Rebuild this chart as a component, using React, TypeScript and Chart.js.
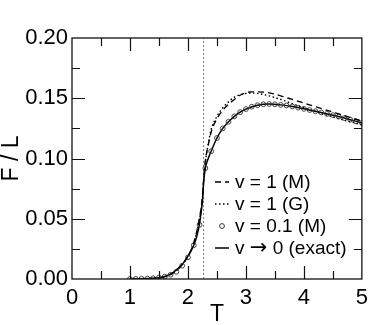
import React, { useEffect, useRef } from "react";
import { Chart, registerables } from "chart.js";

Chart.register(...registerables);

// ---- data ----
const T_C = 2.269;

const T_EXACT = [1.0, 1.2, 1.4, 1.5, 1.6, 1.7, 1.8, 1.9, 2.0, 2.05, 2.1, 2.15, 2.2, 2.25, 2.27, 2.3, 2.35, 2.4, 2.5, 2.6, 2.7, 2.8, 2.9, 3.0, 3.2, 3.4, 3.6, 3.8, 4.0, 4.2, 4.4, 4.6, 4.8, 5.0];
const F_EXACT = [0, 0.0002, 0.0006, 0.001, 0.002, 0.004, 0.0075, 0.012, 0.019, 0.023, 0.028, 0.035, 0.046, 0.065, 0.08, 0.092, 0.1, 0.106, 0.117, 0.125, 0.1305, 0.135, 0.1385, 0.141, 0.1442, 0.1452, 0.1445, 0.1432, 0.1412, 0.1392, 0.137, 0.1348, 0.1322, 0.1295];

const T_V1M = [1.0, 1.5, 1.8, 2.0, 2.1, 2.2, 2.25, 2.27, 2.3, 2.35, 2.4, 2.5, 2.6, 2.7, 2.8, 2.9, 3.0, 3.1, 3.2, 3.4, 3.6, 3.8, 4.0, 4.2, 4.4, 4.6, 4.8, 5.0];
const F_V1M = [0, 0.001, 0.007, 0.019, 0.03, 0.051, 0.068, 0.082, 0.098, 0.111, 0.122, 0.133, 0.14, 0.145, 0.149, 0.1525, 0.1545, 0.1553, 0.1553, 0.1545, 0.152, 0.149, 0.146, 0.143, 0.14, 0.137, 0.134, 0.131];

const T_V1G = [1.0, 1.5, 1.8, 2.0, 2.1, 2.2, 2.25, 2.27, 2.3, 2.35, 2.4, 2.5, 2.6, 2.7, 2.8, 2.9, 3.0, 3.1, 3.2, 3.4, 3.6, 3.8, 4.0, 4.2, 4.4, 4.6, 4.8, 5.0];
const F_V1G = [0, 0.001, 0.007, 0.019, 0.03, 0.05, 0.067, 0.081, 0.097, 0.112, 0.124, 0.135, 0.142, 0.147, 0.151, 0.153, 0.154, 0.1543, 0.154, 0.152, 0.149, 0.1455, 0.142, 0.139, 0.136, 0.133, 0.1305, 0.128];

const T_V01M = [1.0, 1.1, 1.2, 1.3, 1.4, 1.5, 1.6, 1.7, 1.8, 1.9, 2.0, 2.1, 2.2, 2.3, 2.4, 2.5, 2.6, 2.7, 2.8, 2.9, 3.0, 3.1, 3.2, 3.3, 3.4, 3.5, 3.6, 3.7, 3.8, 3.9, 4.0, 4.1, 4.2, 4.3, 4.4, 4.5, 4.6, 4.7, 4.8, 4.9, 5.0];
const F_V01M = [0, 0.0001, 0.0002, 0.0004, 0.0007, 0.0012, 0.002, 0.0035, 0.006, 0.011, 0.018, 0.028, 0.045, 0.092, 0.106, 0.117, 0.125, 0.1305, 0.135, 0.1385, 0.141, 0.143, 0.1442, 0.145, 0.1452, 0.145, 0.1445, 0.144, 0.1432, 0.1422, 0.1412, 0.1402, 0.1392, 0.1382, 0.137, 0.136, 0.1348, 0.1335, 0.1322, 0.1308, 0.1295];

const LABELS = ["v = 1 (M)", "v = 1 (G)", "v = 0.1 (M)", "v \u2192 0 (exact)"];
const X_TITLE = "T";
const Y_TITLE = "F / L";

const pts = (xs: number[], ys: number[]) => xs.map((x, i) => ({ x, y: ys[i] }));

const FONT = "'Liberation Sans', Arial, Helvetica, sans-serif";
const ARROW_FONT = "'DejaVu Sans', sans-serif";

const framePlugin = {
  id: "frameTicks",
  afterDatasetsDraw(chart: any) {
    const { ctx, chartArea: a, scales } = chart;
    const xs = scales.x;
    const ys = scales.y;
    ctx.save();
    ctx.strokeStyle = "#111";
    ctx.lineWidth = 1.3;
    ctx.strokeRect(a.left, a.top, a.right - a.left, a.bottom - a.top);
    ctx.lineWidth = 1.2;
    const MAJ = 13;
    const MIN = 8;
    ctx.beginPath();
    for (let k = 1; k < 10; k++) {
      const v = k * 0.5;
      const len = k % 2 === 0 ? MAJ : MIN;
      const px = Math.round(xs.getPixelForValue(v)) + 0.5;
      ctx.moveTo(px, a.bottom);
      ctx.lineTo(px, a.bottom - len);
      ctx.moveTo(px, a.top);
      ctx.lineTo(px, a.top + len);
    }
    for (let k = 1; k < 8; k++) {
      const v = k * 0.025;
      const len = k % 2 === 0 ? MAJ : MIN;
      const py = Math.round(ys.getPixelForValue(v)) + 0.5;
      ctx.moveTo(a.left, py);
      ctx.lineTo(a.left + len, py);
      ctx.moveTo(a.right, py);
      ctx.lineTo(a.right - len, py);
    }
    ctx.stroke();
    ctx.restore();
  },
  afterDraw(chart: any) {
    const { ctx } = chart;
    const ds = chart.data.datasets;
    const x0 = 215;
    const x1 = 229;
    const tx = 235;
    const rows = [182, 204, 226, 248];
    ctx.save();
    ctx.textBaseline = "middle";
    ctx.textAlign = "left";
    for (let i = 0; i < 4; i++) {
      const d = ds[i];
      const y = rows[i];
      ctx.strokeStyle = d.borderColor;
      ctx.lineWidth = d.borderWidth;
      if (d.showLine === false) {
        ctx.beginPath();
        ctx.setLineDash([]);
        ctx.lineWidth = 1;
        ctx.arc((x0 + x1) / 2, y, d.pointRadius, 0, Math.PI * 2);
        ctx.stroke();
      } else {
        ctx.beginPath();
        ctx.setLineDash(d.borderDash || []);
        ctx.moveTo(x0, y);
        ctx.lineTo(x1, y);
        ctx.stroke();
      }
      ctx.setLineDash([]);
      ctx.fillStyle = "#000";
      const label: string = d.label;
      const ai = label.indexOf("\u2192");
      if (ai < 0) {
        ctx.font = "19px " + FONT;
        ctx.fillText(label, tx, y + 1);
      } else {
        const a = label.slice(0, ai);
        const b = label.slice(ai + 1);
        let cx = tx;
        ctx.font = "19px " + FONT;
        ctx.fillText(a, cx, y + 1);
        cx += ctx.measureText(a).width;
        ctx.font = "21px " + ARROW_FONT;
        ctx.fillText("\u2192", cx, y + 1);
        cx += ctx.measureText("\u2192").width;
        ctx.font = "19px " + FONT;
        ctx.fillText(b, cx, y + 1);
      }
    }
    ctx.restore();
  },
};

export default function App() {
  const ref = useRef<HTMLCanvasElement | null>(null);

  useEffect(() => {
    document.body.style.margin = "0";
    const canvas = ref.current;
    if (!canvas) return;
    Chart.defaults.font.family = FONT;
    const chart = new Chart(canvas, {
      type: "line",
      data: {
        datasets: [
          {
            label: LABELS[0],
            data: pts(T_V1M, F_V1M),
            borderColor: "#000",
            borderWidth: 1.4,
            borderDash: [6, 4],
            pointRadius: 0,
            cubicInterpolationMode: "monotone",
            fill: false,
          },
          {
            label: LABELS[1],
            data: pts(T_V1G, F_V1G),
            borderColor: "#000",
            borderWidth: 1.4,
            borderDash: [1.5, 2.5],
            pointRadius: 0,
            cubicInterpolationMode: "monotone",
            fill: false,
          },
          {
            label: LABELS[2],
            data: pts(T_V01M, F_V01M),
            borderColor: "#333",
            backgroundColor: "rgba(255,255,255,0)",
            borderWidth: 1,
            showLine: false,
            pointRadius: 2.4,
            pointBorderWidth: 0.9,
            pointStyle: "circle",
            fill: false,
          },
          {
            label: LABELS[3],
            data: pts(T_EXACT, F_EXACT),
            borderColor: "#000",
            borderWidth: 1.5,
            pointRadius: 0,
            cubicInterpolationMode: "monotone",
            fill: false,
          },
          {
            label: "Tc",
            data: [
              { x: T_C, y: 0 },
              { x: T_C, y: 0.2 },
            ],
            borderColor: "#777",
            borderWidth: 1,
            borderDash: [2, 2],
            pointRadius: 0,
            fill: false,
          },
        ],
      },
      options: {
        animation: false,
        responsive: true,
        maintainAspectRatio: false,
        layout: { padding: { top: 38, right: 8, left: 0, bottom: 0 } },
        plugins: { legend: { display: false }, tooltip: { enabled: false } },
        scales: {
          x: {
            type: "linear",
            min: 0,
            max: 5,
            ticks: {
              stepSize: 1,
              color: "#000",
              font: { size: 22, family: FONT },
              padding: 6,
              maxRotation: 0,
            },
            grid: { display: false, drawTicks: false, tickLength: 0 },
            border: { display: false },
            title: {
              display: true,
              text: X_TITLE,
              color: "#000",
              font: { size: 23, family: FONT, lineHeight: 1 },
              padding: { top: 0, bottom: -1 },
            },
            afterFit: (s: any) => {
              s.height = 46;
            },
          },
          y: {
            type: "linear",
            min: 0,
            max: 0.2,
            ticks: {
              stepSize: 0.05,
              color: "#000",
              font: { size: 22, family: FONT },
              padding: 4,
              callback: (v: any) => Number(v).toFixed(2),
            },
            grid: { display: false, drawTicks: false, tickLength: 0 },
            border: { display: false },
            title: {
              display: true,
              text: Y_TITLE,
              color: "#000",
              font: { size: 23, family: FONT, lineHeight: 1 },
              padding: { top: 0, bottom: 0 },
            },
            afterFit: (s: any) => {
              s.width = 72;
            },
          },
        },
      },
      plugins: [framePlugin],
    } as any);
    return () => chart.destroy();
  }, []);

  return (
    <div style={{ width: 374, height: 325, position: "relative", background: "#fff" }}>
      <canvas ref={ref} />
    </div>
  );
}
